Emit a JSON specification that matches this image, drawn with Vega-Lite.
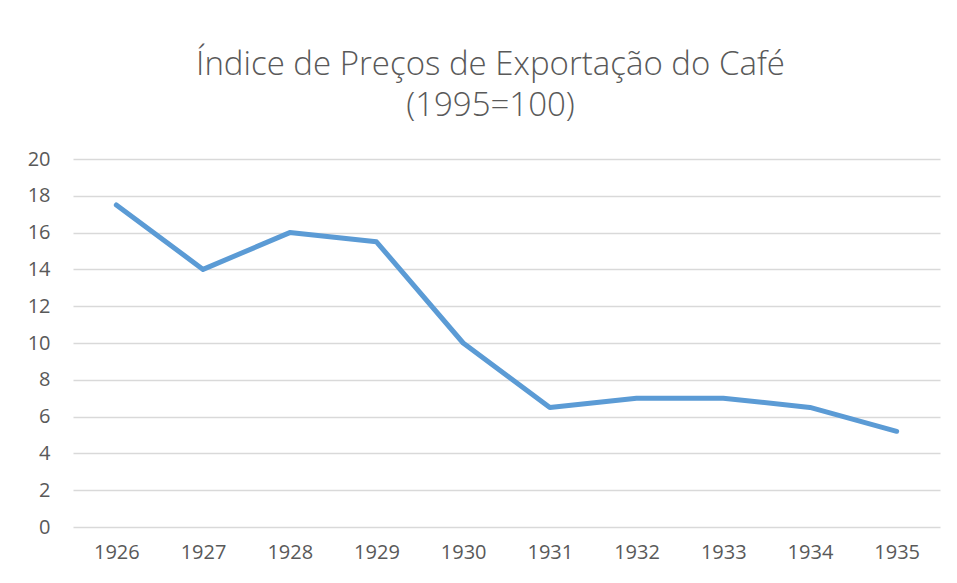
{
  "$schema": "https://vega.github.io/schema/vega-lite/v6.json",
  "width": 867,
  "height": 368,
  "autosize": "none",
  "padding": {"left": 73, "top": 159, "right": 17, "bottom": 56},
  "background": "white",
  "title": {
    "text": ["Índice de Preços de Exportação do Café", "(1995=100)"],
    "font": "Open Sans",
    "fontSize": 33,
    "fontWeight": 300,
    "color": "#595959",
    "lineHeight": 41,
    "anchor": "middle",
    "frame": "group",
    "offset": 26,
    "dx": -16
  },
  "config": {
    "view": {"stroke": null},
    "axis": {
      "labelFont": "Open Sans",
      "labelFontSize": 20,
      "labelColor": "#595959",
      "ticks": false,
      "domain": false,
      "title": null,
      "gridColor": "#d9d9d9",
      "gridWidth": 1.5
    }
  },
  "data": {
    "values": [
      {"ano": "1926", "indice": 17.5},
      {"ano": "1927", "indice": 14},
      {"ano": "1928", "indice": 16},
      {"ano": "1929", "indice": 15.5},
      {"ano": "1930", "indice": 10},
      {"ano": "1931", "indice": 6.5},
      {"ano": "1932", "indice": 7},
      {"ano": "1933", "indice": 7},
      {"ano": "1934", "indice": 6.5},
      {"ano": "1935", "indice": 5.2}
    ]
  },
  "mark": {"type": "line", "color": "#5B9BD5", "strokeWidth": 5, "strokeCap": "round", "strokeJoin": "round"},
  "encoding": {
    "x": {
      "field": "ano",
      "type": "ordinal",
      "scale": {"type": "point", "padding": 0.5},
      "axis": {"labelAngle": 0, "grid": false, "labelPadding": 15}
    },
    "y": {
      "field": "indice",
      "type": "quantitative",
      "scale": {"domain": [0, 20], "nice": false},
      "axis": {"values": [0, 2, 4, 6, 8, 10, 12, 14, 16, 18, 20], "labelPadding": 23, "grid": true}
    }
  }
}
